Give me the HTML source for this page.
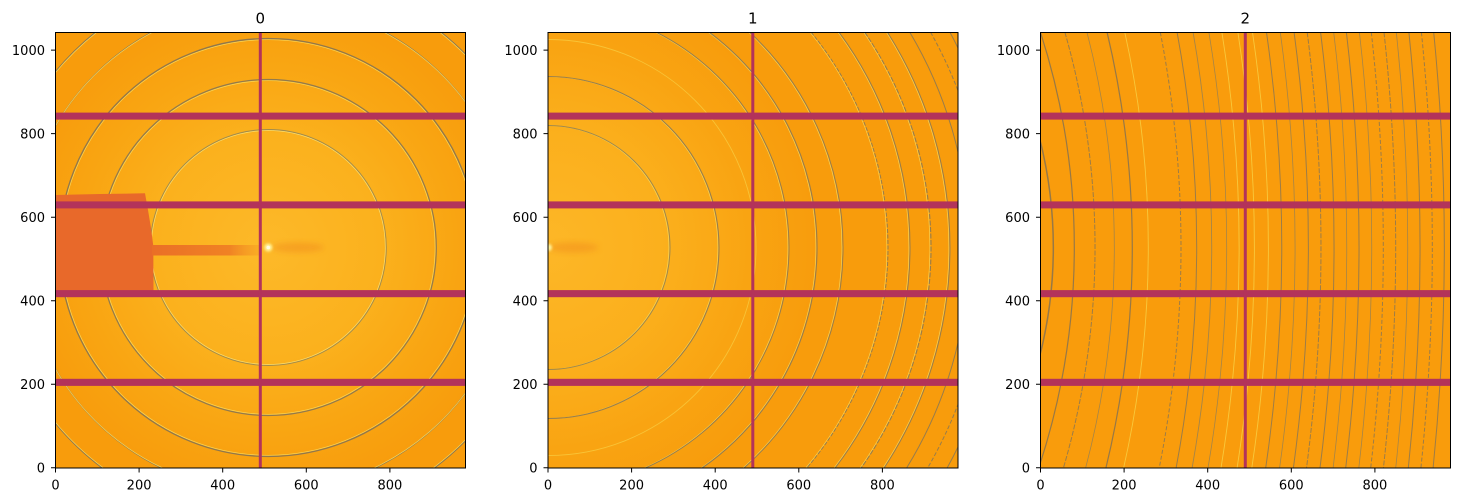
<!DOCTYPE html>
<html><head><meta charset="utf-8"><style>
html,body{margin:0;padding:0;background:#fff;width:1459px;height:502px;overflow:hidden;}
svg{display:block;}
text{font-family:"DejaVu Sans","Liberation Sans",sans-serif;fill:#000;}
</style></head><body>
<svg width="1459" height="502" viewBox="0 0 1459 502" xmlns="http://www.w3.org/2000/svg" xmlns:xlink="http://www.w3.org/1999/xlink">
<defs>
<clipPath id="c0"><rect x="55.3" y="32.3" width="410" height="435.7"/></clipPath>
<clipPath id="c1"><rect x="547.8" y="32.3" width="410" height="435.7"/></clipPath>
<clipPath id="c2"><rect x="1040.3" y="32.3" width="410" height="435.7"/></clipPath>
<radialGradient id="g0" gradientUnits="userSpaceOnUse" cx="268.3" cy="247.5" r="250">
<stop offset="0" stop-color="#fdb929"/><stop offset="0.45" stop-color="#fbb11d"/><stop offset="0.75" stop-color="#f9a512"/><stop offset="1" stop-color="#f89c0c"/>
</radialGradient>
<radialGradient id="g1" gradientUnits="userSpaceOnUse" cx="548" cy="247.5" r="270">
<stop offset="0" stop-color="#fdb727"/><stop offset="0.45" stop-color="#fbaf1c"/><stop offset="0.75" stop-color="#f9a412"/><stop offset="1" stop-color="#f89c0c"/>
</radialGradient>
<linearGradient id="arm" x1="153" y1="0" x2="262" y2="0" gradientUnits="userSpaceOnUse">
<stop offset="0" stop-color="#ea6f26"/><stop offset="0.7" stop-color="#f08224"/><stop offset="1" stop-color="#f6a020" stop-opacity="0.4"/>
</linearGradient>
<filter id="bl" x="-50%" y="-50%" width="200%" height="200%"><feGaussianBlur stdDeviation="3"/></filter>
<filter id="bl2" x="-50%" y="-50%" width="200%" height="200%"><feGaussianBlur stdDeviation="1.2"/></filter>
<path id="a1" fill="none" d="M548 125.5 A122 122 0 0 1 548 369.5"/>
<path id="a2" fill="none" d="M548 76.5 A171 171 0 0 1 548 418.5"/>
<path id="a3" fill="none" d="M548 39.5 A208 208 0 0 1 548 455.5"/>
<path id="a4" fill="none" d="M656.5 32.3 A241 241 0 0 1 645.3 468"/>
<path id="a5" fill="none" d="M709.4 32.3 A269 269 0 0 1 702.1 468"/>
<path id="a6" fill="none" d="M749.8 32.3 A295 295 0 0 1 744 468"/>
<path id="a7" fill="none" d="M811.2 32.3 A340 340 0 0 1 806.8 468"/>
<path id="a8" fill="none" d="M839.1 32.3 A362 362 0 0 1 835.1 468"/>
<path id="a9" fill="none" d="M864.8 32.3 A383 383 0 0 1 861.2 468"/>
<path id="a10" fill="none" d="M887.5 32.3 A402 402 0 0 1 884.1 468"/>
</defs>

<!-- Panel 0 -->
<g clip-path="url(#c0)">
<rect x="55.3" y="32.3" width="410" height="435.7" fill="#f89c0c"/>
<rect x="55.3" y="32.3" width="410" height="435.7" fill="url(#g0)"/>
<g fill="none" opacity="0.9">
<circle cx="268.3" cy="247.5" r="117" stroke="#f7e27a" stroke-width="0.7"/>
<circle cx="268.3" cy="247.5" r="118" stroke="#958755" stroke-width="0.9"/>
<circle cx="268.3" cy="247.5" r="166.8" stroke="#f6dc62" stroke-width="0.7"/>
<circle cx="268.3" cy="247.5" r="168" stroke="#857555" stroke-width="1.2"/>
<circle cx="268.3" cy="247.5" r="207.8" stroke="#f6dc62" stroke-width="0.7"/>
<circle cx="268.3" cy="247.5" r="209" stroke="#837355" stroke-width="1.3"/>
<path d="M385.4 32.3 A245 245 0 0 1 375.1 468 M161.5 468 A245 245 0 0 1 151.2 32.3" stroke="#877757" stroke-width="1.1"/>
<path d="M384.2 32.3 A243.8 243.8 0 0 1 373.9 468 M162.7 468 A243.8 243.8 0 0 1 152.4 32.3" stroke="#f6dc62" stroke-width="0.7"/>
<path d="M441.1 32.3 A276 276 0 0 1 434.3 468 M102.3 468 A276 276 0 0 1 95.5 32.3" stroke="#837355" stroke-width="1.3"/>
<path d="M439.9 32.3 A274.8 274.8 0 0 1 433.1 468 M103.5 468 A274.8 274.8 0 0 1 96.7 32.3" stroke="#f6dc62" stroke-width="0.7"/>
</g>
<polygon points="55.3,195 100,194 145,193.3 148,210 151,228 153.3,246 153.5,291 55.3,291" fill="#e8692a"/>
<rect x="152" y="245" width="110" height="10.5" fill="url(#arm)"/>
<ellipse cx="298" cy="247.5" rx="26" ry="5" fill="#f2901e" opacity="0.55" filter="url(#bl)"/>
<circle cx="268.3" cy="247.5" r="4" fill="#fff39a" filter="url(#bl2)"/>
<circle cx="268.3" cy="247.5" r="1.8" fill="#fffbe0"/>
<g fill="#b3335a">
<rect x="55.3" y="112.6" width="410" height="7"/>
<rect x="55.3" y="201.4" width="410" height="7"/>
<rect x="55.3" y="290.1" width="410" height="7.1"/>
<rect x="55.3" y="378.8" width="410" height="7.1"/>
<rect x="258.8" y="32.3" width="3" height="435.7"/>
</g>
</g>

<!-- Panel 1 -->
<g clip-path="url(#c1)">
<rect x="547.8" y="32.3" width="410" height="435.7" fill="#f89c0c"/>
<rect x="547.8" y="32.3" width="410" height="435.7" fill="url(#g1)"/>
<g fill="none" opacity="0.85">
<use href="#a1" xlink:href="#a1" x="-1.1" stroke="#f6dc62" stroke-width="0.7"/>
<use href="#a1" xlink:href="#a1" stroke="#8f8155" stroke-width="1"/>
<use href="#a2" xlink:href="#a2" x="-1.1" stroke="#f6dc62" stroke-width="0.7"/>
<use href="#a2" xlink:href="#a2" stroke="#877757" stroke-width="1.1"/>
<use href="#a3" xlink:href="#a3" stroke="#f8d850" stroke-width="0.9" opacity="0.7"/>
<use href="#a4" xlink:href="#a4" x="-1.1" stroke="#f6dc62" stroke-width="0.7"/>
<use href="#a4" xlink:href="#a4" stroke="#877757" stroke-width="1"/>
<use href="#a5" xlink:href="#a5" x="-1.1" stroke="#f6dc62" stroke-width="0.7"/>
<use href="#a5" xlink:href="#a5" stroke="#877757" stroke-width="1.1"/>
<use href="#a6" xlink:href="#a6" x="-1.1" stroke="#f6dc62" stroke-width="0.7"/>
<use href="#a6" xlink:href="#a6" stroke="#877757" stroke-width="1"/>
<use href="#a7" xlink:href="#a7" x="-1.1" stroke="#f6dc62" stroke-width="0.7"/>
<use href="#a7" xlink:href="#a7" stroke="#877757" stroke-width="1" stroke-dasharray="4 1.5"/>
<use href="#a8" xlink:href="#a8" x="-1.1" stroke="#f6dc62" stroke-width="0.7"/>
<use href="#a8" xlink:href="#a8" stroke="#877757" stroke-width="1"/>
<use href="#a9" xlink:href="#a9" x="-1.1" stroke="#f6dc62" stroke-width="0.7"/>
<use href="#a9" xlink:href="#a9" stroke="#877757" stroke-width="1.1" stroke-dasharray="5 1.5"/>
<use href="#a10" xlink:href="#a10" x="-1.1" stroke="#f6dc62" stroke-width="0.7"/>
<use href="#a10" xlink:href="#a10" stroke="#877757" stroke-width="1"/>
<path d="M909.8 32.3 A421 421 0 0 1 906.6 468" stroke="#877757" stroke-width="1"/>
<path d="M930.6 32.3 A439 439 0 0 1 927.6 468" stroke="#877757" stroke-width="1" stroke-dasharray="4 2"/>
<path d="M950 32.3 A456 456 0 0 1 947.1 468" stroke="#877757" stroke-width="1"/>
</g>
<ellipse cx="573" cy="247.5" rx="25" ry="5" fill="#f2901e" opacity="0.55" filter="url(#bl)"/>
<circle cx="548.5" cy="247.5" r="3.5" fill="#fff39a" filter="url(#bl2)"/>
<g fill="#b3335a">
<rect x="547.8" y="112.6" width="410" height="7"/>
<rect x="547.8" y="201.4" width="410" height="7"/>
<rect x="547.8" y="290.1" width="410" height="7.1"/>
<rect x="547.8" y="378.8" width="410" height="7.1"/>
<rect x="751.3" y="32.3" width="3" height="435.7"/>
</g>
</g>

<!-- Panel 2 -->
<g clip-path="url(#c2)">
<rect x="1040.3" y="32.3" width="410" height="435.7" fill="#f99c0c"/>
<g fill="none" stroke-width="1" opacity="0.8">
<path d="M997.1 32.3 A440 440 0 0 1 994.1 468" stroke="#7f7056" stroke-width="1.5"/>
<path d="M1040.5 32.3 A701 701 0 0 1 1038.7 468" stroke="#7f7056" stroke-width="1.2"/>
<path d="M1064.9 32.3 A784 784 0 0 1 1063.4 468" stroke="#857557" stroke-dasharray="5 1.5"/>
<path d="M1087 32.3 A861 861 0 0 1 1085.6 468" stroke="#907f58" stroke-width="0.8"/>
<path d="M1107.1 32.3 A933 933 0 0 1 1105.9 468" stroke="#7f7056" stroke-width="1.2"/>
<path d="M1124.8 32.3 A997 997 0 0 1 1123.6 468" stroke="#f8d448" stroke-width="0.9"/>
<path d="M1160.3 32.3 A1128 1128 0 0 1 1159.2 468" stroke="#857557" stroke-dasharray="4 2"/>
<path d="M1177.1 32.3 A1191 1191 0 0 1 1176.1 468" stroke="#857557"/>
<path d="M1193.1 32.3 A1251 1251 0 0 1 1192.1 468" stroke="#907f58" stroke-width="0.9"/>
<path d="M1208.9 32.3 A1311 1311 0 0 1 1208 468" stroke="#907f58" stroke-width="0.8"/>
<path d="M1221.9 32.3 A1360 1360 0 0 1 1221 468" stroke="#f8d448" stroke-width="0.9"/>
<path d="M1237.9 32.3 A1421 1421 0 0 1 1237.1 468" stroke="#f8d448" stroke-width="0.9"/>
<path d="M1252.5 32.3 A1477 1477 0 0 1 1251.8 468" stroke="#f8d448" stroke-width="0.9"/>
<path d="M1266.5 32.3 A1531 1531 0 0 1 1265.7 468" stroke="#857557"/>
<path d="M1280.3 32.3 A1584 1584 0 0 1 1279.6 468" stroke="#907f58" stroke-width="0.8"/>
<path d="M1294.1 32.3 A1637 1637 0 0 1 1293.4 468" stroke="#857557"/>
<path d="M1307.2 32.3 A1688 1688 0 0 1 1306.5 468" stroke="#857557" stroke-dasharray="5 1.5"/>
<path d="M1320.6 32.3 A1740 1740 0 0 1 1320 468" stroke="#857557"/>
<path d="M1333.7 32.3 A1791 1791 0 0 1 1333.1 468" stroke="#907f58" stroke-width="0.8"/>
<path d="M1346.4 32.3 A1840 1840 0 0 1 1345.7 468" stroke="#857557"/>
<path d="M1359.4 32.3 A1891 1891 0 0 1 1358.8 468" stroke="#907f58" stroke-width="0.8"/>
<path d="M1371.3 32.3 A1937 1937 0 0 1 1370.7 468" stroke="#857557" stroke-dasharray="4 2"/>
<path d="M1384 32.3 A1987 1987 0 0 1 1383.4 468" stroke="#857557" stroke-dasharray="5 1.5"/>
<path d="M1396.3 32.3 A2035 2035 0 0 1 1395.7 468" stroke="#907f58" stroke-width="0.8"/>
<path d="M1408.9 32.3 A2084 2084 0 0 1 1408.3 468" stroke="#857557"/>
<path d="M1421.4 32.3 A2133 2133 0 0 1 1420.9 468" stroke="#857557" stroke-dasharray="4 2"/>
<path d="M1433.7 32.3 A2181 2181 0 0 1 1433.1 468" stroke="#857557"/>
</g>
<g fill="#b3335a">
<rect x="1040.3" y="112.6" width="410" height="7"/>
<rect x="1040.3" y="201.4" width="410" height="7"/>
<rect x="1040.3" y="290.1" width="410" height="7.1"/>
<rect x="1040.3" y="378.8" width="410" height="7.1"/>
<rect x="1243.8" y="32.3" width="3" height="435.7"/>
</g>
</g>

<!-- Frames -->
<g fill="none" stroke="#000" stroke-width="1">
<rect x="55.5" y="32.5" width="410" height="435.5"/>
<rect x="548" y="32.5" width="410" height="435.5"/>
<rect x="1040.5" y="32.5" width="410" height="435.5"/>
</g>

<!-- Ticks -->
<g stroke="#000" stroke-width="1">
<path d="M55.5 468v4.5M139.1 468v4.5M222.7 468v4.5M306.3 468v4.5M389.9 468v4.5"/>
<path d="M548 468v4.5M631.6 468v4.5M715.2 468v4.5M798.8 468v4.5M882.4 468v4.5"/>
<path d="M1040.5 468v4.5M1124.1 468v4.5M1207.7 468v4.5M1291.3 468v4.5M1374.9 468v4.5"/>
<path d="M55.5 467.8h-4.5M55.5 384.3h-4.5M55.5 300.7h-4.5M55.5 217.2h-4.5M55.5 133.6h-4.5M55.5 50.1h-4.5"/>
<path d="M548 467.8h-4.5M548 384.3h-4.5M548 300.7h-4.5M548 217.2h-4.5M548 133.6h-4.5M548 50.1h-4.5"/>
<path d="M1040.5 467.8h-4.5M1040.5 384.3h-4.5M1040.5 300.7h-4.5M1040.5 217.2h-4.5M1040.5 133.6h-4.5M1040.5 50.1h-4.5"/>
</g>

<!-- Titles -->
<g font-size="15" text-anchor="middle">
<text x="260.3" y="23.3">0</text>
<text x="752.8" y="23.3">1</text>
<text x="1245.3" y="23.3">2</text>
</g>

<!-- X tick labels -->
<g font-size="13" text-anchor="middle">
<text x="55.5" y="489.3">0</text><text x="139.1" y="489.3">200</text><text x="222.7" y="489.3">400</text><text x="306.3" y="489.3">600</text><text x="389.9" y="489.3">800</text>
<text x="548" y="489.3">0</text><text x="631.6" y="489.3">200</text><text x="715.2" y="489.3">400</text><text x="798.8" y="489.3">600</text><text x="882.4" y="489.3">800</text>
<text x="1040.5" y="489.3">0</text><text x="1124.1" y="489.3">200</text><text x="1207.7" y="489.3">400</text><text x="1291.3" y="489.3">600</text><text x="1374.9" y="489.3">800</text>
</g>

<!-- Y tick labels -->
<g font-size="13" text-anchor="end">
<text x="45" y="472.5">0</text><text x="45" y="389">200</text><text x="45" y="305.4">400</text><text x="45" y="221.9">600</text><text x="45" y="138.3">800</text><text x="45" y="54.8">1000</text>
<text x="537.5" y="472.5">0</text><text x="537.5" y="389">200</text><text x="537.5" y="305.4">400</text><text x="537.5" y="221.9">600</text><text x="537.5" y="138.3">800</text><text x="537.5" y="54.8">1000</text>
<text x="1030" y="472.5">0</text><text x="1030" y="389">200</text><text x="1030" y="305.4">400</text><text x="1030" y="221.9">600</text><text x="1030" y="138.3">800</text><text x="1030" y="54.8">1000</text>
</g>
</svg>
</body></html>
